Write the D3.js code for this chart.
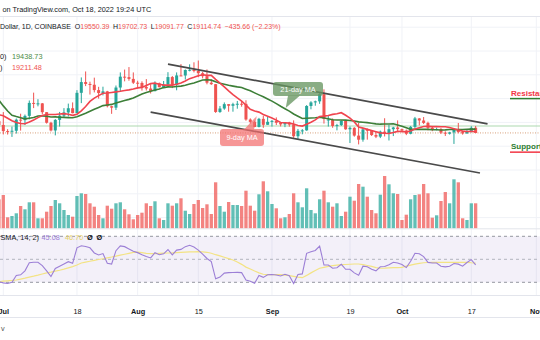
<!DOCTYPE html>
<html><head><meta charset="utf-8">
<script src="https://cdn.jsdelivr.net/npm/d3@7"></script>
<style>
html,body{margin:0;padding:0;background:#fff;}
svg{display:block;font-family:"Liberation Sans",Arial,sans-serif;}
</style></head><body>
<svg id="c" width="540" height="340"></svg>
<script>
// ---------- DATA (daily, 2022-06-30 .. 2022-10-18) ----------
const firstDay = "2022-06-30";
const lastDay = "2022-10-18";
const opens = [20105,19785,19269,19243,19297,20231,20190,20548,21637,21590,21600,20860,19970,19323,20212,20569,20836,21190,20779,22485,23389,23231,23164,22714,22465,22609,21361,21239,22930,23843,23804,23656,
23336,23314,22978,22846,22630,23289,22961,23175,23810,23164,23947,23940,24402,24424,24319,24136,23883,23336,23212,20877,21166,21534,21398,21529,21568,21560,20242,20041,19616,20297,19797,
20050,20127,19969,19832,19986,19813,18837,19290,19330,21381,21680,21769,22370,20196,20241,19701,19773,20127,19420,19545,18891,18547,19413,19297,18937,18803,19222,19111,19427,19573,
19432,19312,19044,19623,20337,20160,19956,19546,19417,19446,19141,19052,19157,19382,19185,19067,19268,19550.39];
const highs = [20140,20870,19430,19650,20330,20730,20660,21840,22500,21950,21630,20870,20050,20280,20880,21200,21580,21680,22710,23780,24280,23420,23760,22990,23000,22650,21400,23100,24200,24440,24650,24200,
23500,23450,23640,23220,23450,23350,23480,24220,23900,24200,24900,24450,24880,25050,25200,24250,24450,23600,23220,21380,21680,21540,21650,21800,21800,21860,20340,20140,20380,20560,20480,
20200,20420,19990,20000,20050,20170,19450,19440,21450,21780,21830,22450,22780,20530,20330,19880,20180,20140,19660,19600,19950,19500,19500,19310,19180,19310,20350,19790,19630,20170,
19480,19400,19700,20460,20360,20450,20060,19620,19560,19520,19250,19210,19510,19950,19220,19420,19680,19702.73];
const lows = [18630,18990,18980,18780,19060,19310,19780,20250,21200,21350,20680,19900,19240,18910,19650,20400,20500,20760,20770,21620,23050,22340,22520,22000,22270,21260,20720,21040,22600,23450,23500,23230,
22850,22670,22680,22430,22600,22940,22880,23160,22880,22700,23900,23600,24290,24200,23800,23700,23200,23150,20800,20800,21060,20900,20900,21150,21320,20140,19900,19600,19580,19540,19800,
19650,19780,19660,19600,19640,18700,18550,19000,19300,21100,21400,21560,19900,19650,19550,19330,19700,19380,18270,18800,18150,18380,18550,18860,18680,18680,18820,18480,18850,19200,
19160,18930,19000,19500,19750,19860,19330,19260,19330,19020,18860,18980,18190,19080,18970,19060,19160,19091.77];
const closes = [19785,19269,19243,19297,20231,20190,20548,21637,21590,21600,20860,19970,19323,20212,20569,20836,21190,20779,22485,23389,23231,23164,22714,22465,22609,21361,21239,22930,23843,23804,23656,23336,
23314,22978,22846,22630,23289,22961,23175,23810,23164,23947,23940,24402,24424,24319,24136,23883,23336,23212,20877,21166,21534,21398,21529,21568,21560,20242,20041,19616,20297,19797,20050,
20127,19969,19832,19986,19813,18837,19290,19330,21381,21680,21769,22370,20296,20241,19701,19773,20127,19420,19545,18891,18547,19413,19297,18937,18803,19222,19111,19427,19573,19432,
19312,19044,19623,20337,20160,19956,19546,19417,19446,19141,19052,19157,19382,19185,19067,19268,19550,19114.74];
// closes of 2022-06-10 .. 2022-06-29 (needed for the moving averages at the left edge)
const priorCloses = [29084,28425,26763,22488,22207,22573,20381,20472,19018,20554,20556,20711,19988,21086,21232,21502,21028,20736,20280,20105];
// volume (thousand units)
const volumes = [29,33.3,11,12.3,15,22.3,19,26,26,10,10,16.6,22.3,28.3,25,18.3,13.3,11.6,32.3,35,34.3,25,21.6,13.3,10,22.6,19.6,25,26,19,14,9,
13.3,15.6,25,22.3,27,10,8.3,25,22.6,25,30,17.6,14.3,24.3,28.3,20.3,24,14.3,46,22.3,16.6,26.3,23.3,23.3,22.3,37.6,22.6,17.6,34,47,37,
24.3,20,10,11,14.3,35,26,21,40,18.3,15,29,37.6,26,21.6,25,12.3,16.6,31.6,27.6,44.3,41.6,31.6,18.3,15,33.6,52.3,44,35,34.3,
8.3,13.6,29,33.3,34,44.3,35,10.6,13,27.3,36.3,25,49,46,10,8.3,25,25];
const rsi = [30.5,29.5,29,30,36,36.5,40,47,47.4,47.4,44.5,40,35,42,44,46,47.9,46.5,60,61.8,61.2,60,55.5,53.8,55,46.5,45.9,57.5,61.6,61,59,57,
55.8,54,52.5,51.2,55.7,54,54.8,58.5,53.9,58,58.6,61,62.2,60.7,58,54.5,50.7,48,33,34.5,38,38.4,38.5,38.6,38.4,32,31,29.2,36,34.3,36.5,
36.8,36.3,35.5,37,35.8,29,36.8,37.3,55.2,56.5,57.7,61.5,45,45,42.2,42.7,45.6,41.3,41.3,38.2,36.2,44,43.6,41.3,40,43.5,43.8,45.2,
47.4,46.8,45.5,42.8,48.3,55.2,54.8,52.3,47.3,46.8,46.8,44,43.4,44,46.3,45.8,44,47.2,49.7,45.08];
const rsiMa = [30.6,31,31.3,31.6,32,32.8,33.6,34.5,35.3,36.2,37.2,38.2,38.9,39.7,40.5,41.4,42.5,43.6,45,46.8,47.6,48.3,49,49.8,50.5,51.3,52,52.8,53.6,54.4,55.2,56,
56.2,55.8,55.2,54.9,55,55.2,55.4,55.5,55.6,55.8,56,56.2,56.4,56.5,56.6,56.5,56.1,55.3,54,53,51.8,50.6,49.4,47.6,45.6,43.2,41.5,39.8,38.2,37,36.6,
36.8,36.7,36.6,36.3,35.8,35.2,34.5,34,36,38.2,40.2,42.2,43,43.8,44.5,45,45.3,45.5,45.7,45.9,45.9,45.4,44.6,43.8,42.8,42.2,42.3,42.5,
42.7,42.8,43,44,45,45.8,46.5,47,47.2,47.3,47.4,47.4,47.4,47.4,47.4,47.4,47.4,47.4,47,46.7];
const timeTicks = ["2022-07-01","2022-07-18","2022-08-01","2022-08-15","2022-09-01","2022-09-19","2022-10-01","2022-10-17","2022-11-01"];
const timeLabels = ["Jul","18","Aug","15","Sep","19","Oct","17","Nov"];
const priceGrid = [12000,14000,16000,18000,20000,22000,24000,26000,28000];
const rsiLevels = [70,50,30];
const channelUpper = [["2022-08-08",24900],["2022-10-20T18:00",19870]];
const channelLower = [["2022-08-04",20870],["2022-10-19",15750]];
const levels = {resistance:22000, support:17500, lastHigh:19702.73, lastClose:19114.74};
// legend texts as printed on the chart
const ohlcLabels = ["O","H","L","C"];
const ohlcValues = ["19550.39","19702.73","19091.77","19114.74"];
const changeText = "−435.66 (−2.23%)";
const maLegend = ["19438.73","19211.48"];
const rsiLegend = ["45.08","46.70"];

// ---------- SCALES ----------
const pd = s => new Date(s.length>10 ? s+"Z" : s+"T00:00Z");
const days = d3.utcDay.range(pd(firstDay), d3.utcDay.offset(pd(lastDay),1));
const x = d3.scaleUtc().domain([pd("2022-07-01"), pd("2022-11-01")]).range([3.3, 536.3]);
const y = d3.scaleLinear().domain([16000, 26000]).range([170, 51]);
const yVol = d3.scaleLinear().domain([0, 100]).range([228.3, 128.3]);
const yRsi = d3.scaleLinear().domain([30, 70]).range([282.3, 236.3]);

const GREEN = "#26a69a", RED = "#ef5350";
const svg = d3.select("#c");
svg.append("rect").attr("width",540).attr("height",340).attr("fill","#fff");
svg.append("defs").append("clipPath").attr("id","pp").append("rect").attr("x",0).attr("y",16.5).attr("width",540).attr("height",212);

// grid
const grid = svg.append("g").attr("stroke","#f0f2f7").attr("stroke-width",1);
grid.selectAll("line.v").data(timeTicks).join("line").attr("class","v")
  .attr("x1",d=>x(pd(d))).attr("x2",d=>x(pd(d))).attr("y1",16).attr("y2",295);
grid.selectAll("line.h").data(priceGrid.filter(p=>y(p)>17 && y(p)<228)).join("line").attr("class","h")
  .attr("x1",0).attr("x2",540).attr("y1",d=>y(d)).attr("y2",d=>y(d));
const borders = svg.append("g").attr("stroke","#e3e5ec").attr("stroke-width",1);
[16.5, 228.8, 295.5, 317.5].forEach(v=>borders.append("line").attr("x1",0).attr("x2",540).attr("y1",v).attr("y2",v));

const price = svg.append("g").attr("clip-path","url(#pp)");
price.append("line").attr("x1",0).attr("x2",540).attr("y1",y(levels.lastHigh)).attr("y2",y(levels.lastHigh))
  .attr("stroke","#a5d6a7").attr("stroke-width",1.6).attr("opacity",0.6);
price.append("line").attr("x1",0).attr("x2",540).attr("y1",y(levels.lastClose)).attr("y2",y(levels.lastClose))
  .attr("stroke","#d7a07c").attr("stroke-width",1).attr("stroke-dasharray","1,1.5");

// volume
price.selectAll("rect.vol").data(days).join("rect").attr("class","vol")
  .attr("x",(d,i)=>x(d)-1.65).attr("width",3.3)
  .attr("y",(d,i)=>yVol(volumes[i])).attr("height",(d,i)=>yVol(0)-yVol(volumes[i]))
  .attr("fill",(d,i)=>closes[i]>=opens[i]?GREEN:RED).attr("opacity",0.72);

// candles
const cg = price.append("g");
cg.selectAll("line.w").data(days).join("line").attr("class","w")
  .attr("x1",d=>x(d)).attr("x2",d=>x(d))
  .attr("y1",(d,i)=>y(highs[i])).attr("y2",(d,i)=>y(lows[i]))
  .attr("stroke",(d,i)=>closes[i]>=opens[i]?GREEN:RED).attr("stroke-width",1);
cg.selectAll("rect.b").data(days).join("rect").attr("class","b")
  .attr("x",d=>x(d)-1.5).attr("width",3)
  .attr("y",(d,i)=>y(Math.max(opens[i],closes[i])))
  .attr("height",(d,i)=>Math.max(1,Math.abs(y(opens[i])-y(closes[i]))))
  .attr("fill",(d,i)=>closes[i]>=opens[i]?GREEN:RED);

// moving averages (simple MA of closes)
const allCloses = priorCloses.concat(closes);
const sma = n => closes.map((c,i)=>d3.mean(allCloses.slice(i+priorCloses.length-n+1, i+priorCloses.length+1)));
const ma9 = sma(9), ma21 = sma(21);
const maLine = arr => d3.line().x((d,i)=>x(days[i])).y(d=>y(d))(arr);
price.append("path").attr("d",maLine(ma21)).attr("fill","none").attr("stroke","#3d7f38").attr("stroke-width",1.6);
price.append("path").attr("d",maLine(ma9)).attr("fill","none").attr("stroke","#f0444e").attr("stroke-width",1.6);

// channel
[channelUpper, channelLower].forEach(c=>{
  price.append("line").attr("x1",x(pd(c[0][0]))).attr("y1",y(c[0][1])).attr("x2",x(pd(c[1][0]))).attr("y2",y(c[1][1]))
    .attr("stroke","#4a4a4a").attr("stroke-width",1.7);
});

// callouts
function callout(tipDate, tipPrice, bx, by, bw, bh, tail, fill, label){
  const tx = x(pd(tipDate)), ty = y(tipPrice);
  const g = price.append("g");
  g.append("path").attr("d",`M${tail[0]},${tail[1]}L${tx},${ty}L${tail[2]},${tail[3]}Z`).attr("fill",fill);
  g.append("rect").attr("x",bx).attr("y",by).attr("width",bw).attr("height",bh).attr("rx",3).attr("fill",fill);
  g.append("text").attr("x",bx+bw/2).attr("y",by+bh/2+2.5).attr("text-anchor","middle")
    .attr("fill","#fff").attr("font-size",7.3).text(label);
}
callout("2022-09-04T04:00", 21210, 273, 82, 50, 14, [288,95.5,300,95.5], "rgba(104,150,98,0.78)", "21-day MA");
callout("2022-08-28T12:00", 20540, 220, 129, 44, 17, [244,129.5,254,129.5], "rgba(242,110,110,0.72)", "9-day MA");

// resistance / support labels (run off the right edge, as in the original screenshot)
const lab = svg.append("g").attr("font-size",8).attr("font-weight","bold");
lab.append("text").attr("x",511).attr("y",y(levels.resistance)-2.5).attr("fill","#f23645").text("Resistance");
lab.append("line").attr("x1",510).attr("x2",540).attr("y1",y(levels.resistance)).attr("y2",y(levels.resistance)).attr("stroke","#2e7d32").attr("stroke-width",1.5);
lab.append("text").attr("x",511).attr("y",y(levels.support)-3.5).attr("fill","#2e7d32").text("Support");
lab.append("line").attr("x1",510).attr("x2",540).attr("y1",y(levels.support)).attr("y2",y(levels.support)).attr("stroke","#f23645").attr("stroke-width",1.5);

// header
const hdr = svg.append("g").attr("font-size",7.3).attr("fill","#131722");
hdr.append("text").attr("x",2.5).attr("y",11.5).text("on TradingView.com, Oct 18, 2022 19:24 UTC");
const l2 = hdr.append("text").attr("x",0).attr("y",28.5).attr("font-size",7);
l2.append("tspan").text("Dollar, 1D, COINBASE");
ohlcLabels.forEach((k,i)=>{
  l2.append("tspan").attr("dx",i===0?4:3.5).text(k);
  l2.append("tspan").attr("fill",RED).text(ohlcValues[i]);
});
l2.append("tspan").attr("dx",3.5).attr("fill",RED).text(changeText);
const l3 = hdr.append("text").attr("x",0).attr("y",59);
l3.append("tspan").text("0)");
l3.append("tspan").attr("x",12).attr("fill","#4c8c47").text(maLegend[0]);
const l4 = hdr.append("text").attr("x",0).attr("y",70);
l4.append("tspan").text(")");
l4.append("tspan").attr("x",12).attr("fill",RED).text(maLegend[1]);

// RSI pane
svg.append("rect").attr("x",0).attr("width",540).attr("y",yRsi(70)).attr("height",yRsi(30)-yRsi(70)).attr("fill","rgba(126,87,194,0.09)");
svg.selectAll("line.rl").data(rsiLevels).join("line").attr("class","rl")
  .attr("x1",0).attr("x2",540).attr("y1",d=>yRsi(d)).attr("y2",d=>yRsi(d))
  .attr("stroke",d=>d===50?"#b2b5be":"#9598a1").attr("stroke-dasharray","3,3").attr("stroke-width",1);
const rl = d3.line().x((d,i)=>x(days[i])).y(d=>yRsi(d));
svg.append("path").attr("d",rl(rsiMa)).attr("fill","none").attr("stroke","#f3e384").attr("stroke-width",1.2);
svg.append("path").attr("d",rl(rsi)).attr("fill","none").attr("stroke","#9c7fd6").attr("stroke-width",1.1);
const rg = svg.append("g").attr("font-size",7.3);
rg.append("text").attr("x",0.5).attr("y",239.5).attr("fill","#131722").text("SMA, 14; 2)");
rg.append("text").attr("x",41.5).attr("y",239.5).attr("fill","#9c7fd6").text(rsiLegend[0]);
rg.append("text").attr("x",65).attr("y",239.5).attr("fill","#e8d36a").text(rsiLegend[1]);
rg.append("text").attr("x",87).attr("y",239.5).attr("fill","#131722").attr("font-weight","bold").text("Ø");
rg.append("text").attr("x",96.5).attr("y",239.5).attr("fill","#131722").attr("font-weight","bold").text("Ø");

// time axis
const ax = svg.append("g").attr("transform","translate(0,306)")
  .call(d3.axisBottom(x).tickValues(timeTicks.map(pd)).tickSize(0).tickFormat((d,i)=>timeLabels[i]));
ax.select(".domain").remove();
ax.selectAll("text").attr("font-size",7.3).attr("fill","#131722").attr("font-family","Liberation Sans, Arial, sans-serif")
  .attr("font-weight",(d,i)=>isNaN(+timeLabels[i])?"bold":"normal");
svg.append("text").attr("x",1).attr("y",331).attr("font-size",7.3).attr("fill","#555").text("v");
</script></body></html>
